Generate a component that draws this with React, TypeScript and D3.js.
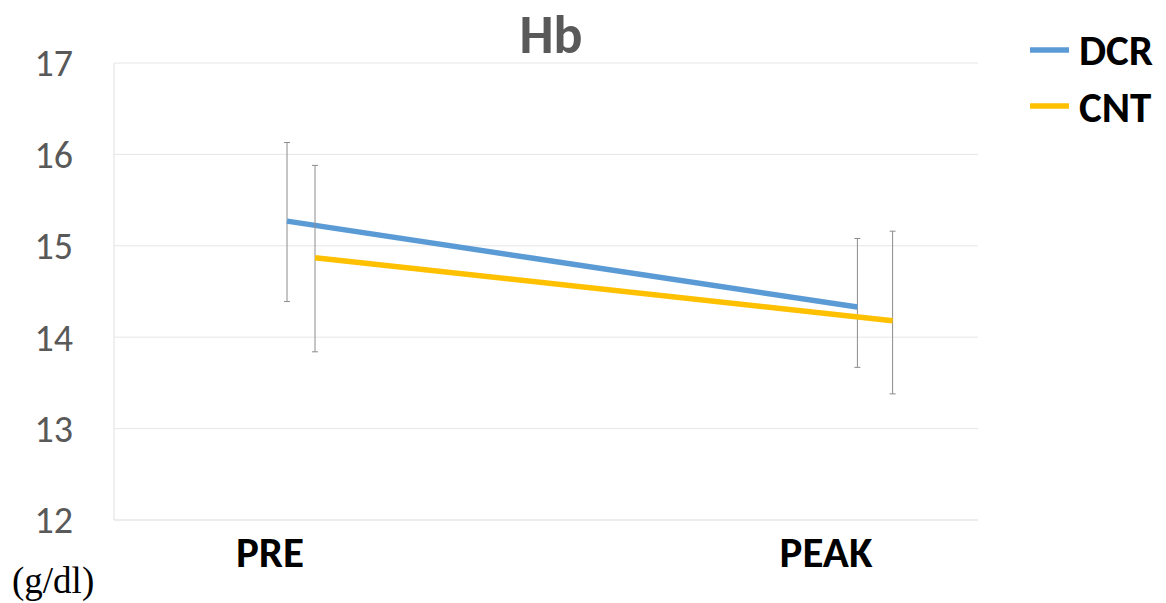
import React from 'react';
import * as d3 from 'd3';

const categories = ['PRE', 'PEAK'];
const seriesNames = ['DCR', 'CNT'];
const dcrMean = [15.27, 14.33];
const dcrUpper = [16.13, 15.08];
const dcrLower = [14.39, 13.67];
const cntMean = [14.87, 14.18];
const cntUpper = [15.88, 15.16];
const cntLower = [13.84, 13.38];
const yTicks = [12, 13, 14, 15, 16, 17];

const colors = ['#5B9BD5', '#FFC000'];
const font = 'Carlito, Calibri, Lato, "Open Sans", sans-serif';

const W = 1166;
const H = 603;
const left = 114;
const right = 978;
const top = 63;
const bottom = 520;

const App = () => {
  const y = d3.scaleLinear().domain([12, 17]).range([bottom, top]);
  // category centres and label positions
  const x = d3.scalePoint().domain(categories).range([301, 875]);
  const xLabel = d3.scalePoint().domain(categories).range([270, 826]);
  const dodge = d3.scalePoint().domain(seriesNames).range([-16, 16]);

  const series = [
    { name: 'DCR', mean: dcrMean, upper: dcrUpper, lower: dcrLower },
    { name: 'CNT', mean: cntMean, upper: cntUpper, lower: cntLower },
  ];

  const line = d3.line<[number, number]>().x(d => d[0]).y(d => d[1]);

  return (
    <svg width={W} height={H} style={{ position: 'absolute', left: 0, top: 0 }}>
      <rect width={W} height={H} fill="#fff" />
      {yTicks.map(t => (
        <g key={t}>
          <line x1={left} x2={right} y1={y(t)} y2={y(t)} stroke={t === 12 ? '#d9d9d9' : '#e6e6e6'} strokeWidth={1} />
          <text x={73} y={y(t)} dy="0.35em" textAnchor="end" fontFamily={font} fontSize={38} fill="#595959">
            {t}
          </text>
        </g>
      ))}
      <line x1={left} x2={left} y1={top} y2={bottom} stroke="#e0e0e0" strokeWidth={1} />

      {series.map((s, si) => {
        const pts: [number, number][] = categories.map((c, i) => [
          (x(c) as number) + (dodge(s.name) as number) * (i === 0 ? 0.875 : 1.1),
          y(s.mean[i]),
        ]);
        return (
          <g key={s.name}>
            {pts.map((p, i) => (
              <g key={i} stroke="#8c8c8c" strokeWidth={1}>
                <line x1={p[0]} x2={p[0]} y1={y(s.upper[i])} y2={y(s.lower[i])} />
                <line x1={p[0] - 3} x2={p[0] + 3} y1={y(s.upper[i])} y2={y(s.upper[i])} />
                <line x1={p[0] - 3} x2={p[0] + 3} y1={y(s.lower[i])} y2={y(s.lower[i])} />
              </g>
            ))}
            <path d={line(pts) || ''} fill="none" stroke={colors[si]} strokeWidth={5.5} />
          </g>
        );
      })}

      {categories.map(c => (
        <text key={c} x={xLabel(c)} y={567} textAnchor="middle" fontFamily={font} fontWeight="bold" fontSize={43} fill="#000">
          {c}
        </text>
      ))}

      <text x={551} y={53} textAnchor="middle" fontFamily={font} fontWeight="bold" fontSize={54} fill="#595959">
        Hb
      </text>

      {seriesNames.map((n, i) => (
        <g key={n}>
          <line x1={1030} x2={1069} y1={50 + i * 56} y2={50 + i * 56} stroke={colors[i]} strokeWidth={5.5} />
          <text x={1079} y={65 + i * 57} fontFamily={font} fontWeight="bold" fontSize={43} fill="#000">
            {n}
          </text>
        </g>
      ))}

      <text x={12} y={593} fontFamily='"Liberation Serif", "DejaVu Serif", serif' fontSize={37} fill="#000">
        (g/dl)
      </text>
    </svg>
  );
};

export default App;
